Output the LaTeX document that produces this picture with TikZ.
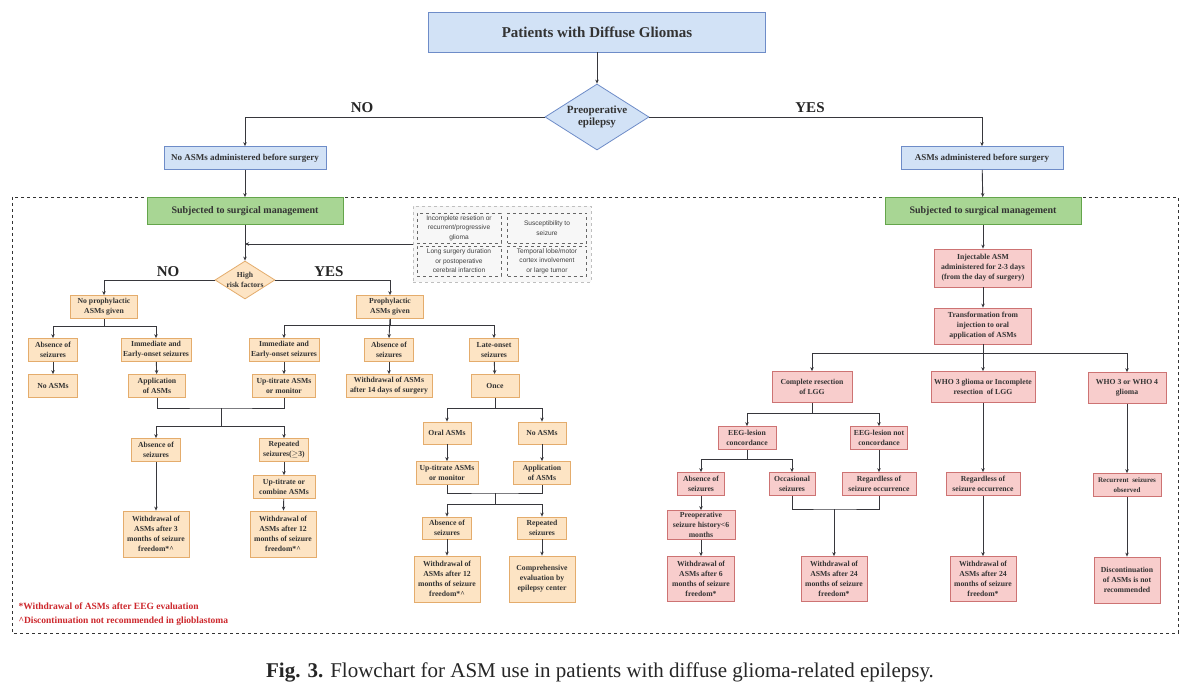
\documentclass[tikz,border=0pt]{standalone}
\usepackage{fontspec}
\setmainfont{Liberation Serif}
\newfontfamily\riskfont{Liberation Sans}
\usetikzlibrary{shapes.geometric, arrows.meta}
\definecolor{bluefill}{RGB}{210, 226, 246}
\definecolor{blueborder}{RGB}{110, 140, 200}
\definecolor{greenfill}{RGB}{168, 214, 148}
\definecolor{greenborder}{RGB}{100, 165, 75}
\definecolor{orangefill}{RGB}{253, 228, 196}
\definecolor{orangeborder}{RGB}{228, 172, 108}
\definecolor{pinkfill}{RGB}{248, 205, 204}
\definecolor{pinkborder}{RGB}{205, 115, 115}
\definecolor{linecolor}{RGB}{55, 55, 60}
\definecolor{notecolor}{RGB}{205, 40, 45}
\tikzstyle{box} = [rectangle, align=center, inner sep=0.5pt, line width=0.8pt,
                   font=\fontsize{7.7}{10}\selectfont\bfseries, text=black!80]
\tikzstyle{bluebox} = [box, draw=blueborder, fill=bluefill, font=\fontsize{9}{10}\selectfont\bfseries]
\tikzstyle{greenbox} = [box, draw=greenborder, fill=greenfill, minimum width=196pt, minimum height=27pt,
                        font=\fontsize{10}{11}\selectfont\bfseries]
\tikzstyle{obox} = [box, draw=orangeborder, fill=orangefill]
\tikzstyle{pbox} = [box, draw=pinkborder, fill=pinkfill]
\tikzstyle{riskbox} = [rectangle, draw=black!60, dashed, align=center, inner sep=0pt,
                       font=\riskfont\fontsize{6.6}{9.4}\selectfont, text=black!75,
                       minimum width=84pt, minimum height=30pt]
\tikzstyle{arrow} = [-{Stealth[length=4pt, width=3.5pt]}, line width=0.9pt, draw=linecolor]
\tikzstyle{link} = [line width=0.9pt, draw=linecolor]
\tikzstyle{yesno} = [font=\fontsize{15}{16}\selectfont\bfseries, text=black!85]

\begin{document}
\begin{tikzpicture}[x=1pt, y=-1pt]
    \useasboundingbox (0,0) rectangle (1200,695);
    \fill[white] (0,0) rectangle (1200,695);
    % frame of the surgical part
    \draw[dashed, line width=0.8pt, black!80] (12,197) rectangle (1178,633);

    % top
    \node[bluebox, minimum width=337pt, minimum height=40pt, font=\fontsize{15}{16}\selectfont\bfseries] (patients) at (597,32) {Patients with Diffuse Gliomas};
    \node[diamond, draw=blueborder, fill=bluefill, line width=0.8pt, minimum width=104pt, minimum height=66pt, inner sep=-6pt,
          align=center, font=\fontsize{11}{12}\selectfont\bfseries, text=black!80] (preop) at (597,117) {Preoperative\\epilepsy};
    \node[bluebox, minimum width=162pt, minimum height=23pt] (noasm) at (245,158) {No ASMs administered before surgery};
    \node[bluebox, minimum width=162pt, minimum height=23pt] (asm) at (982,158) {ASMs administered before surgery};
    \node[yesno] (no1) at (362,108) {NO};
    \node[yesno] (yes1) at (810,108) {YES};
    \draw[arrow] (patients) -- (preop);
    \draw[arrow] (preop.west) -| (noasm.north);
    \draw[arrow] (preop.east) -| (asm.north);

    \node[greenbox] (surgL) at (245,211) {Subjected to surgical management};
    \node[greenbox] (surgR) at (983,211) {Subjected to surgical management};
    \draw[arrow] (noasm) -- (surgL);
    \draw[arrow] (asm) -- (surgR);

    % risk factors
    \node[draw=black!25, dashed, minimum width=178pt, minimum height=76pt, fill=black!3] (risk) at (502,244) {};
    \node[riskbox] (r1) at (459,228) {Incomplete resetion or\\recurrent/progressive\\glioma};
    \node[riskbox, minimum width=79pt] (r2) at (547,228) {Susceptibility to\\seizure};
    \node[riskbox] (r3) at (459,261) {Long surgery duration\\or postoperative\\cerebral infarction};
    \node[riskbox, minimum width=79pt] (r4) at (547,261) {Temporal lobe/motor\\cortex involvement\\or large tumor};
    \coordinate (riskin) at (245,244);
    \draw[arrow] (risk.west |- riskin) -- (riskin);

    % left branch
    \node[diamond, draw=orangeborder, fill=orangefill, line width=0.8pt, minimum width=60pt, minimum height=38pt, inner sep=-4pt,
          align=center, font=\fontsize{7.6}{9.5}\selectfont\bfseries, text=black!80] (high) at (245,280) {High\\risk factors};
    \draw[arrow] (surgL) -- (high);
    \node[yesno] (no2) at (168,272) {NO};
    \node[yesno] (yes2) at (329,272) {YES};
    \node[obox, minimum width=67pt, minimum height=23pt] (noproph) at (104,307) {No prophylactic\\ASMs given};
    \node[obox, minimum width=67pt, minimum height=23pt] (proph) at (390,307) {Prophylactic\\ASMs given};
    \draw[arrow] (high.west) -| (noproph.north);
    \draw[arrow] (high.east) -| (proph.north);

    \node[obox, minimum width=49pt, minimum height=23pt] (absA) at (53,350) {Absence of\\seizures};
    \node[obox, minimum width=70pt, minimum height=23pt] (immA) at (156,350) {Immediate and\\Early-onset seizures};
    \node[obox, minimum width=70pt, minimum height=23pt] (immB) at (284,350) {Immediate and\\Early-onset seizures};
    \node[obox, minimum width=49pt, minimum height=23pt] (absB) at (389,350) {Absence of\\seizures};
    \node[obox, minimum width=49pt, minimum height=23pt] (late) at (494,350) {Late-onset\\seizures};
    \draw[link] (noproph.south) -- ++(0,8) coordinate (busA);
    \draw[arrow] (busA) -| (absA.north);
    \draw[arrow] (busA) -| (immA.north);
    \draw[link] (proph.south) -- ++(0,7) coordinate (busB);
    \draw[arrow] (proph.south) -- (absB.north);
    \draw[arrow] (busB) -| (immB.north);
    \draw[arrow] (busB) -| (late.north);

    \node[obox, minimum width=49pt, minimum height=23pt] (noasmA) at (53,386) {No ASMs};
    \node[obox, minimum width=57pt, minimum height=23pt] (applA) at (157,386) {Application\\of ASMs};
    \node[obox, minimum width=63pt, minimum height=23pt] (uptA) at (284,386) {Up-titrate ASMs\\or monitor};
    \node[obox, minimum width=86pt, minimum height=23pt] (with14) at (389,386) {Withdrawal of ASMs\\after 14 days of surgery};
    \node[obox, minimum width=48pt, minimum height=23pt] (once) at (495,386) {Once};
    \draw[arrow] (absA) -- (noasmA);
    \draw[arrow] (immA) -- (applA);
    \draw[arrow] (immB) -- (uptA);
    \draw[arrow] (absB) -- (with14);
    \draw[arrow] (late) -- (once);

    \node[obox, minimum width=49pt, minimum height=23pt] (absC) at (156,450) {Absence of\\seizures};
    \node[obox, minimum width=49pt, minimum height=23pt] (repC) at (284,450) {Repeated\\seizures($\geq$3)};
    \draw[link] (applA.south) |- (221,408) coordinate (mergeC) -| (uptA.south);
    \draw[link] (mergeC) -- (221,426) coordinate (busC);
    \draw[arrow] (busC) -| (absC.north);
    \draw[arrow] (busC) -| (repC.north);
    \node[obox, minimum width=62pt, minimum height=23pt] (combine) at (284,487) {Up-titrate or\\combine ASMs};
    \draw[arrow] (repC) -- (combine);
    \node[obox, minimum width=66pt, minimum height=46pt] (with3) at (156,534) {Withdrawal of\\ASMs after 3\\months of seizure\\freedom*\textasciicircum};
    \node[obox, minimum width=66pt, minimum height=46pt] (with12A) at (283,534) {Withdrawal of\\ASMs after 12\\months of seizure\\freedom*\textasciicircum};
    \draw[arrow] (absC) -- (with3);
    \draw[arrow] (combine) -- (with12A);

    \node[obox, minimum width=48pt, minimum height=22pt] (oral) at (447,433) {Oral ASMs};
    \node[obox, minimum width=48pt, minimum height=22pt] (noasmD) at (542,433) {No ASMs};
    \draw[link] (once.south) -- (495,408) coordinate (busD);
    \draw[arrow] (busD) -| (oral.north);
    \draw[arrow] (busD) -| (noasmD.north);
    \node[obox, minimum width=62pt, minimum height=23pt] (uptD) at (447,473) {Up-titrate ASMs\\or monitor};
    \node[obox, minimum width=57pt, minimum height=23pt] (applD) at (542,473) {Application\\of ASMs};
    \draw[arrow] (oral) -- (uptD);
    \draw[arrow] (noasmD) -- (applD);
    \node[obox, minimum width=49pt, minimum height=22pt] (absE) at (447,528) {Absence of\\seizures};
    \node[obox, minimum width=49pt, minimum height=22pt] (repE) at (542,528) {Repeated\\seizures};
    \draw[link] (uptD.south) |- (495,493) coordinate (mergeE) -| (applD.south);
    \draw[link] (mergeE) -- (495,504) coordinate (busE);
    \draw[arrow] (busE) -| (absE.north);
    \draw[arrow] (busE) -| (repE.north);
    \node[obox, minimum width=66pt, minimum height=46pt] (with12B) at (447,579) {Withdrawal of\\ASMs after 12\\months of seizure\\freedom*\textasciicircum};
    \node[obox, minimum width=66pt, minimum height=46pt] (compr) at (542,579) {Comprehensive\\evaluation by\\epilepsy center};
    \draw[arrow] (absE) -- (with12B);
    \draw[arrow] (repE) -- (compr);

    % notes
    \node[anchor=west, text=notecolor, font=\fontsize{9.5}{10}\selectfont\bfseries] (note1) at (15,606) {*Withdrawal of ASMs after EEG evaluation};
    \node[anchor=west, text=notecolor, font=\fontsize{9.5}{10}\selectfont\bfseries] (note2) at (15,621) {\textasciicircum Discontinuation not recommended in glioblastoma};

    % right branch
    \node[pbox, minimum width=97pt, minimum height=38pt] (inject) at (983,268) {Injectable ASM\\administered for 2-3 days\\(from the day of surgery)};
    \node[pbox, minimum width=97pt, minimum height=36pt] (transf) at (983,326) {Transformation from\\injection to oral\\application of ASMs};
    \draw[arrow] (surgR) -- (inject);
    \draw[arrow] (inject) -- (transf);

    \node[pbox, minimum width=80pt, minimum height=31pt] (complete) at (812,387) {Complete resection\\of LGG};
    \node[pbox, minimum width=104pt, minimum height=31pt] (who3) at (983,387) {WHO 3 glioma or Incomplete\\resection\ \ of LGG};
    \node[pbox, minimum width=78pt, minimum height=31pt] (who34) at (1127,388) {WHO 3 or WHO 4\\glioma};
    \draw[link] (transf.south) -- (983,353) coordinate (busF);
    \draw[arrow] (busF) -| (complete.north);
    \draw[arrow] (busF) -- (who3.north);
    \draw[arrow] (busF) -| (who34.north);

    \node[pbox, minimum width=58pt, minimum height=23pt] (conc) at (747,438) {EEG-lesion\\concordance};
    \node[pbox, minimum width=57pt, minimum height=23pt] (notconc) at (879,438) {EEG-lesion not\\concordance};
    \draw[link] (complete.south) -- (812,413) coordinate (busG);
    \draw[arrow] (busG) -| (conc.north);
    \draw[arrow] (busG) -| (notconc.north);

    \node[pbox, minimum width=47pt, minimum height=23pt] (absF) at (701,484) {Absence of\\seizures};
    \node[pbox, minimum width=46pt, minimum height=23pt] (occas) at (792,484) {Occasional\\seizures};
    \node[pbox, minimum width=74pt, minimum height=23pt] (regA) at (879,484) {Regardless of\\seizure occurrence};
    \node[pbox, minimum width=74pt, minimum height=23pt] (regB) at (983,484) {Regardless of\\seizure occurrence};
    \node[pbox, minimum width=68pt, minimum height=23pt, font=\fontsize{7}{10}\selectfont\bfseries] (recur) at (1127,485) {Recurrent\ \ seizures\\observed};
    \draw[link] (conc.south) -- (747,459) coordinate (busH);
    \draw[arrow] (busH) -| (absF.north);
    \draw[arrow] (busH) -| (occas.north);
    \draw[arrow] (notconc) -- (regA);
    \draw[arrow] (who3) -- (regB);
    \draw[arrow] (who34) -- (recur);

    \node[pbox, minimum width=68pt, minimum height=29pt] (preopH) at (701,525) {Preoperative\\seizure history<6\\months};
    \draw[arrow] (absF) -- (preopH);
    \node[pbox, minimum width=67pt, minimum height=45pt] (with6) at (701,579) {Withdrawal of\\ASMs after 6\\months of seizure\\freedom*};
    \node[pbox, minimum width=66pt, minimum height=45pt] (with24A) at (834,579) {Withdrawal of\\ASMs after 24\\months of seizure\\freedom*};
    \node[pbox, minimum width=66pt, minimum height=45pt] (with24B) at (983,579) {Withdrawal of\\ASMs after 24\\months of seizure\\freedom*};
    \node[pbox, minimum width=66pt, minimum height=46pt] (discont) at (1127,580) {Discontinuation\\of ASMs is not\\recommended};
    \draw[arrow] (preopH) -- (with6);
    \draw[link] (occas.south) |- (834,509) coordinate (mergeI) -| (regA.south);
    \draw[arrow] (mergeI) -- (with24A);
    \draw[arrow] (regB) -- (with24B);
    \draw[arrow] (recur) -- (discont);

    % caption
    \node[font=\fontsize{21}{23}\selectfont, text=black!85] (caption) at (600,672) {\textbf{Fig. 3.} Flowchart for ASM use in patients with diffuse glioma-related epilepsy.};
\end{tikzpicture}
\end{document}
